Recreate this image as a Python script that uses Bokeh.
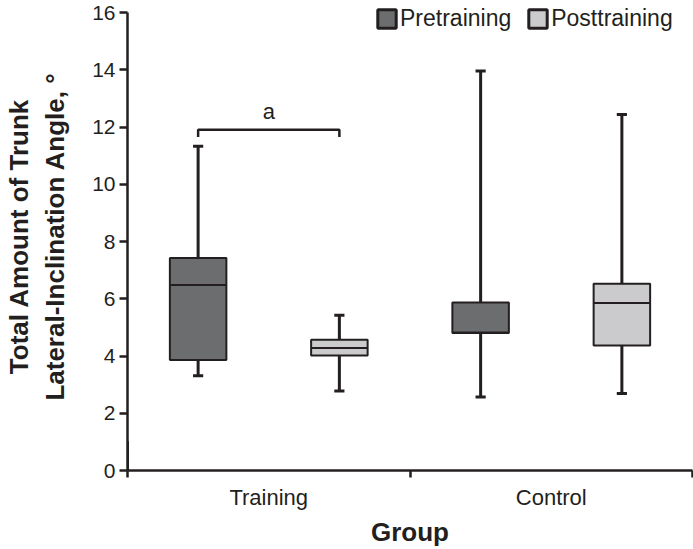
from bokeh.plotting import figure
from bokeh.models import Range1d, FixedTicker, Legend, LegendItem, ColumnDataSource, Label
from bokeh.embed import file_html
from bokeh.resources import INLINE

# ---- data ----
groups = ["Training", "Control"]
series = ["Pretraining", "Posttraining"]
# per box: order = Training-Pre, Training-Post, Control-Pre, Control-Post
group_index = [0, 0, 1, 1]
offsets = [0.25, 0.75, 0.25, 0.75]
series_index = [0, 1, 0, 1]
whisker_low = [3.31, 2.78, 2.57, 2.69]
q1 = [3.86, 4.02, 4.80, 4.37]
median = [6.48, 4.28, 4.82, 5.85]
q3 = [7.42, 4.57, 5.87, 6.52]
whisker_high = [11.33, 5.42, 13.96, 12.44]
y_ticks = [0, 2, 4, 6, 8, 10, 12, 14, 16]
bracket_x = [0.25, 0.25, 0.75, 0.75]
bracket_y = [11.65, 11.9, 11.9, 11.65]
bracket_label = "a"
bracket_label_xy = (0.5, 12.55)

FILLS = ["#6c6d6f", "#cbcbcd"]
INK = "#231f20"
FONT = "Liberation Sans"

W, H = 693, 549
BT, BB, BL, BR = 2, 79, 127, 1
FRAME_H = H - BT - BB
TOP_GAP = 10  # px of headroom above the 16 tick inside the frame (for the legend)
y_max = y_ticks[-1]
y_end = y_max * FRAME_H / (FRAME_H - TOP_GAP)

xs = [g + o for g, o in zip(group_index, offsets)]
fills = [FILLS[s] for s in series_index]
box_w = 0.2
cap_w = 0.018

src = ColumnDataSource(dict(x=xs, lo=whisker_low, q1=q1, med=median, q3=q3, hi=whisker_high,
                            fill=fills))

p = figure(width=W, height=H, output_backend="svg", toolbar_location=None,
           x_range=Range1d(0, 2), y_range=Range1d(0, y_end),
           min_border_left=BL, min_border_right=BR, min_border_top=BT, min_border_bottom=BB)
p.outline_line_color = None
p.xgrid.grid_line_color = None
p.ygrid.grid_line_color = None

# whiskers
p.segment(x0="x", y0="q3", x1="x", y1="hi", source=src, line_color=INK, line_width=3)
p.segment(x0="x", y0="lo", x1="x", y1="q1", source=src, line_color=INK, line_width=3)
# caps
cap_src = ColumnDataSource(dict(x0=[x - cap_w for x in xs], x1=[x + cap_w for x in xs],
                                lo=whisker_low, hi=whisker_high))
p.segment(x0="x0", y0="hi", x1="x1", y1="hi", source=cap_src, line_color=INK, line_width=3)
p.segment(x0="x0", y0="lo", x1="x1", y1="lo", source=cap_src, line_color=INK, line_width=3)
# boxes
p.vbar(x="x", width=box_w, bottom="q1", top="q3", source=src, fill_color="fill",
       line_color=INK, line_width=2)
# medians
med_src = ColumnDataSource(dict(x0=[x - box_w / 2 for x in xs], x1=[x + box_w / 2 for x in xs], m=median))
p.segment(x0="x0", y0="m", x1="x1", y1="m", source=med_src, line_color=INK, line_width=2)

# significance bracket
p.line(bracket_x, bracket_y, line_color=INK, line_width=2.5)
p.add_layout(Label(x=bracket_label_xy[0], y=bracket_label_xy[1], text=bracket_label,
                   text_font=FONT, text_font_size="22px", text_color=INK,
                   text_align="center", text_baseline="middle"))

# legend (proxy renderers for each series, outside the visible range)
leg_items = []
for i, s in enumerate(series):
    r = p.vbar(x=[-10], width=0.1, bottom=[0], top=[1], fill_color=FILLS[i], line_color=INK, line_width=3)
    leg_items.append(LegendItem(label=s, renderers=[r]))
legend = Legend(items=leg_items, orientation="horizontal", location=(248, FRAME_H + BT - 32),
                label_text_font=FONT, label_text_font_size="23px", label_text_color=INK,
                glyph_width=23, glyph_height=23, label_standoff=2, spacing=15,
                padding=0, margin=0, border_line_color=None, background_fill_alpha=0,
                label_height=23)
p.add_layout(legend)

# y axis
ya = p.yaxis[0]
ya.ticker = FixedTicker(ticks=y_ticks)
ya.bounds = (y_ticks[0], y_ticks[-1])
ya.axis_line_color = INK
ya.axis_line_width = 2.5
ya.major_tick_line_color = INK
ya.major_tick_line_width = 2.5
ya.major_tick_out = 8
ya.major_tick_in = 0
ya.minor_tick_line_color = None
ya.major_label_text_font = FONT
ya.major_label_text_font_size = "21px"
ya.major_label_text_color = INK
ya.major_label_standoff = 4
ya.axis_label = "Total Amount of Trunk\nLateral-Inclination Angle, \u00b0"
ya.axis_label_text_font = FONT
ya.axis_label_text_font_size = "26px"
ya.axis_label_text_font_style = "bold"
ya.axis_label_text_color = INK
ya.axis_label_standoff = 19

# x axis
xa = p.xaxis[0]
xa.ticker = FixedTicker(ticks=[i + 0.5 for i in range(len(groups))],
                        minor_ticks=[float(i) for i in range(len(groups) + 1)])
xa.major_label_overrides = {i + 0.5: g for i, g in enumerate(groups)}
xa.axis_line_color = INK
xa.axis_line_width = 2.5
xa.major_tick_line_color = None
xa.major_tick_out = 7
xa.major_tick_in = 0
xa.minor_tick_line_color = INK
xa.minor_tick_line_width = 2.5
xa.minor_tick_out = 7
xa.minor_tick_in = 0
xa.major_label_text_font = FONT
xa.major_label_text_font_size = "22px"
xa.major_label_text_color = INK
xa.major_label_standoff = 7
xa.axis_label = "Group"
xa.axis_label_text_font = FONT
xa.axis_label_text_font_size = "26px"
xa.axis_label_text_font_style = "bold"
xa.axis_label_text_color = INK
xa.axis_label_standoff = 4

open("out.html", "w").write(file_html(p, INLINE))
